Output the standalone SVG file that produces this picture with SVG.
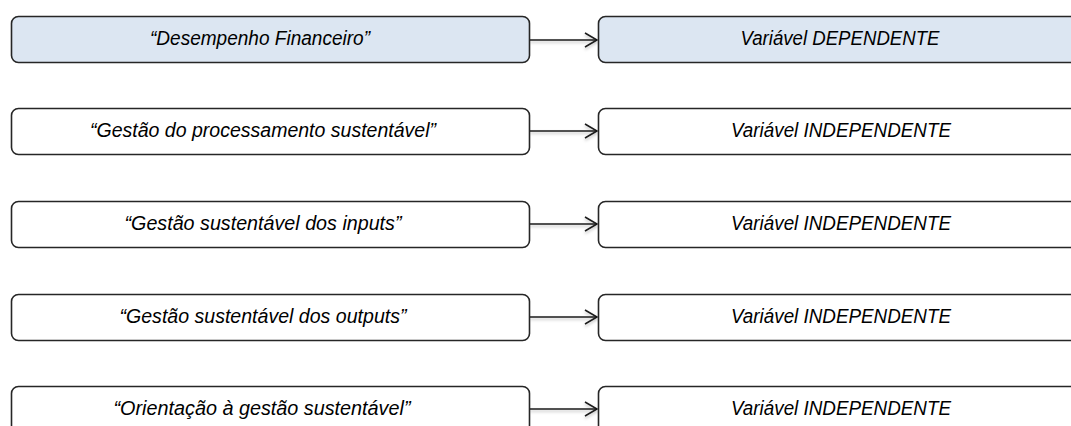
<svg xmlns="http://www.w3.org/2000/svg" width="1071" height="426" viewBox="0 0 1071 426">
  <style>
    .box { fill: #ffffff; stroke: #262626; stroke-width: 1.6; }
    .hl { fill: #dce6f2; }
    .lbl { font-family: "Liberation Sans", Arial, sans-serif; font-style: italic; font-size: 20px; fill: #000000; text-anchor: middle; }
    .conn { stroke: #1a1a1a; stroke-width: 1.5; fill: none; marker-end: url(#chev); }
  </style>
  <defs>
    <marker id="chev" markerWidth="16" markerHeight="16" refX="13" refY="8" orient="auto" markerUnits="userSpaceOnUse">
      <path d="M1,1 L13,8 L1,15" fill="none" stroke="#1a1a1a" stroke-width="1.5"/>
    </marker>
    <filter id="sh" x="-5%" y="-50%" width="110%" height="300%">
      <feDropShadow dx="0" dy="2" stdDeviation="1.5" flood-color="#000000" flood-opacity="0.25"/>
    </filter>
  </defs>

  <rect width="1071" height="426" fill="#ffffff"/>

  <g id="connectors" filter="url(#sh)">
    <line class="conn" x1="530" y1="40" x2="597" y2="40"/>
    <line class="conn" x1="530" y1="131" x2="597" y2="131"/>
    <line class="conn" x1="530" y1="224" x2="597" y2="224"/>
    <line class="conn" x1="530" y1="317" x2="597" y2="317"/>
    <line class="conn" x1="530" y1="409" x2="597" y2="409"/>
  </g>

  <g id="n-desempenho">
    <rect class="box hl" x="11.5" y="16.5" width="518" height="46" rx="7"/>
    <text class="lbl" x="260" y="45" textLength="220" lengthAdjust="spacingAndGlyphs">“Desempenho Financeiro”</text>
  </g>
  <g id="n-dependente">
    <rect class="box hl" x="598.5" y="16.5" width="490" height="46" rx="7"/>
    <text class="lbl" x="840" y="45" textLength="199" lengthAdjust="spacingAndGlyphs">Variável DEPENDENTE</text>
  </g>

  <g id="n-processamento">
    <rect class="box" x="11.5" y="108.5" width="518" height="46" rx="7"/>
    <text class="lbl" x="263" y="137" textLength="346" lengthAdjust="spacingAndGlyphs">“Gestão do processamento sustentável”</text>
  </g>
  <g id="n-indep-1">
    <rect class="box" x="598.5" y="108.5" width="490" height="46" rx="7"/>
    <text class="lbl" x="841" y="137" textLength="220" lengthAdjust="spacingAndGlyphs">Variável INDEPENDENTE</text>
  </g>

  <g id="n-inputs">
    <rect class="box" x="11.5" y="201.5" width="518" height="46" rx="7"/>
    <text class="lbl" x="263" y="230" textLength="277" lengthAdjust="spacingAndGlyphs">“Gestão sustentável dos inputs”</text>
  </g>
  <g id="n-indep-2">
    <rect class="box" x="598.5" y="201.5" width="490" height="46" rx="7"/>
    <text class="lbl" x="841" y="230" textLength="220" lengthAdjust="spacingAndGlyphs">Variável INDEPENDENTE</text>
  </g>

  <g id="n-outputs">
    <rect class="box" x="11.5" y="294.5" width="518" height="46" rx="7"/>
    <text class="lbl" x="263" y="323" textLength="287" lengthAdjust="spacingAndGlyphs">“Gestão sustentável dos outputs”</text>
  </g>
  <g id="n-indep-3">
    <rect class="box" x="598.5" y="294.5" width="490" height="46" rx="7"/>
    <text class="lbl" x="841" y="323" textLength="220" lengthAdjust="spacingAndGlyphs">Variável INDEPENDENTE</text>
  </g>

  <g id="n-orientacao">
    <rect class="box" x="11.5" y="386.5" width="518" height="46" rx="7"/>
    <text class="lbl" x="262" y="415" textLength="297" lengthAdjust="spacingAndGlyphs">“Orientação à gestão sustentável”</text>
  </g>
  <g id="n-indep-4">
    <rect class="box" x="598.5" y="386.5" width="490" height="46" rx="7"/>
    <text class="lbl" x="841" y="415" textLength="220" lengthAdjust="spacingAndGlyphs">Variável INDEPENDENTE</text>
  </g>
</svg>
